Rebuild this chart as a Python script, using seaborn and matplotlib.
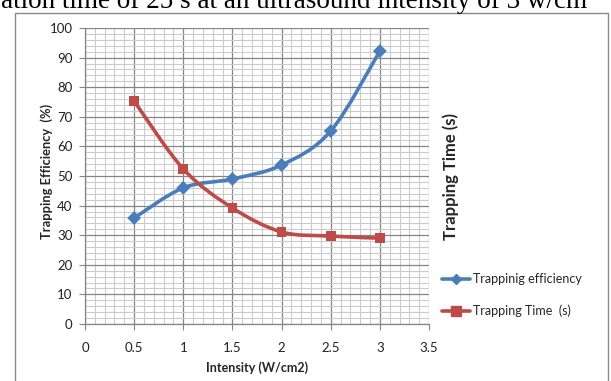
import numpy as np
import matplotlib
matplotlib.use("Agg")
import matplotlib.pyplot as plt
import seaborn as sns
import pandas as pd
from matplotlib.path import Path
from matplotlib.patches import PathPatch, Rectangle
from matplotlib.lines import Line2D
from matplotlib.ticker import MultipleLocator

# Data
intensity = [0.5, 1.0, 1.5, 2.0, 2.5, 3.0]
efficiency = [35.8, 46.0, 49.0, 53.7, 65.2, 92.2]
trap_time = [75.3, 52.4, 39.2, 31.1, 29.7, 29.0]
series_names = ["Trappinig efficiency", "Trapping Time  (s)"]
x_ticks = [0, 0.5, 1, 1.5, 2, 2.5, 3, 3.5]
y_ticks = [0, 10, 20, 30, 40, 50, 60, 70, 80, 90, 100]

BLUE = "#4A7EBB"
RED = "#BE4B48"

sns.set_theme(style="white")
plt.rcParams["font.family"] = ["Lato", "DejaVu Sans"]

fig = plt.figure(figsize=(6.11, 3.81), dpi=100)
W, H = 611, 381
ax = fig.add_axes([85 / W, (H - 324) / H, (429 - 85) / W, (324 - 28) / H])

# caption line running above the chart
fig.text(1 / W, (H - 8) / H, "ation time of 25 s at an ultrasound intensity of 3 w/cm",
         family=["Liberation Serif", "DejaVu Serif"], fontsize=19.5, ha="left",
         va="baseline", color="black")

# chart frame
fig.patches.append(Rectangle((15 / W, -0.1), (608 - 15) / W, (H - 13) / H + 0.1,
                             transform=fig.transFigure, fill=False,
                             edgecolor="#8a8a8a", linewidth=1.0))


def smooth_path(xs, ys):
    """Bezier path through the points, Catmull-Rom style control points."""
    pts = np.column_stack([xs, ys]).astype(float)
    n = len(pts)
    verts = [pts[0]]
    codes = [Path.MOVETO]
    for i in range(n - 1):
        p0 = pts[i - 1] if i > 0 else pts[i]
        p1 = pts[i]
        p2 = pts[i + 1]
        p3 = pts[i + 2] if i + 2 < n else pts[i + 1]
        c1 = p1 + (p2 - p0) / 6.0
        c2 = p2 - (p3 - p1) / 6.0
        verts += [c1, c2, p2]
        codes += [Path.CURVE4] * 3
    return Path(verts, codes)


ax.set_xlim(0, 3.5)
ax.set_ylim(0, 100)

# grid
ax.xaxis.set_major_locator(MultipleLocator(0.5))
ax.xaxis.set_minor_locator(MultipleLocator(0.1))
ax.yaxis.set_major_locator(MultipleLocator(10))
ax.yaxis.set_minor_locator(MultipleLocator(2))
ax.grid(which="minor", color="#cccccc", linewidth=0.8)
ax.grid(which="major", color="#858585", linewidth=0.9)
ax.set_axisbelow(True)

df = pd.DataFrame({"x": intensity * 2,
                   "y": efficiency + trap_time,
                   "s": [series_names[0]] * 6 + [series_names[1]] * 6})

for ys, col in [(efficiency, BLUE), (trap_time, RED)]:
    ax.add_patch(PathPatch(smooth_path(intensity, ys), fill=False,
                           edgecolor=col, linewidth=2.6, capstyle="round",
                           joinstyle="round", zorder=3))

sns.scatterplot(data=df, x="x", y="y", hue="s", style="s",
                palette=[BLUE, RED], markers=["D", "s"],
                s=[50], linewidth=0, ax=ax, legend=False, zorder=4)

ax.set_xticks(x_ticks)
ax.set_xticklabels([f"{v:g}" for v in x_ticks])
ax.set_yticks(y_ticks)
ax.set_yticklabels([str(v) for v in y_ticks])
ax.tick_params(axis="both", which="major", labelsize=9.5, colors="#222222",
               length=4, width=0.8, direction="out", color="#858585",
               left=True, bottom=True)
ax.tick_params(axis="x", pad=9)
ax.tick_params(axis="y", pad=5)
for side in ["top", "right"]:
    ax.spines[side].set_visible(False)
for side in ["left", "bottom"]:
    ax.spines[side].set_color("#858585")
    ax.spines[side].set_linewidth(0.9)

ax.set_xlabel("Intensity (W/cm2)", fontsize=9, fontweight="bold", labelpad=5)
ax.set_ylabel("")
fig.text(47 / W, (H - 171) / H, "Trapping Efficiency  (%)", rotation=90,
         fontsize=9.3, fontweight="bold", ha="center", va="center")

fig.text(451 / W, (H - 176) / H, "Trapping Time (s)", rotation=90,
         fontsize=12, fontweight="bold", ha="center", va="center")

handles = [Line2D([], [], color=BLUE, marker="D", markersize=5, linewidth=2.6),
           Line2D([], [], color=RED, marker="s", markersize=7, linewidth=2.6)]
fig.legend(handles, series_names, loc="upper left",
           bbox_to_anchor=(431 / W, (H - 262) / H), frameon=False,
           fontsize=9, handlelength=2.2, handletextpad=0.3, labelspacing=1.55)

fig.savefig("out.png", dpi=100)
